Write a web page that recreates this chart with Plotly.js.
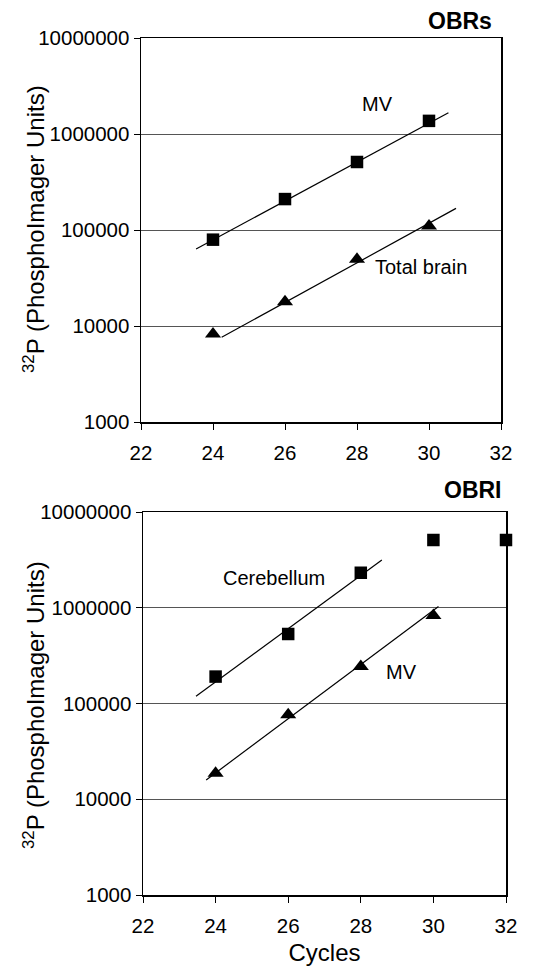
<!DOCTYPE html>
<html>
<head>
<meta charset="utf-8">
<script src="https://cdn.plot.ly/plotly-3.0.1.min.js"></script>
<style>
  html, body { margin: 0; padding: 0; background: #fff; }
  #chart { width: 553px; height: 967px; }
</style>
</head>
<body>
<div id="chart"></div>
<script>
// ---- data ----
const cycles = [24, 26, 28, 30];
const cyclesAll = [24, 26, 28, 30, 32];

// Panel A: OBRs
const obrsMV = [79300, 210000, 511000, 1370000];
const obrsTotalBrain = [8260, 17900, 49500, 110000];
const obrsMVFitX = [23.53, 30.54];
const obrsMVFitY = [63400, 1667000];
const obrsTBFitX = [24.24, 30.75];
const obrsTBFitY = [7620, 168000];

// Panel B: OBRI
const obriCerebellum = [191000, 532000, 2320000, 5100000, 5100000];
const obriMV = [18700, 76200, 244000, 830000];
const obriCbFitX = [23.46, 28.58];
const obriCbFitY = [119000, 3160000];
const obriMVFitX = [23.74, 30.14];
const obriMVFitY = [15900, 1030000];

// ticks
const xTicks = [22, 24, 26, 28, 30, 32];
const yTicks = [1000, 10000, 100000, 1000000, 10000000];
const yTickText = ["1000", "10000", "100000", "1000000", "10000000"];

// texts
const yTitle = '<sup>32</sup>P (PhosphoImager Units)';
const xTitle = 'Cycles';
const panelTitles = ['OBRs', 'OBRI'];

const FONT = "Arial, 'Liberation Sans', sans-serif";

function markerTrace(x, y, sym, xa, ya) {
  return {
    x: x, y: y, xaxis: xa, yaxis: ya, type: 'scatter', mode: 'markers',
    cliponaxis: false, hoverinfo: 'skip',
    marker: { symbol: sym, size: sym === 'square' ? 12.5 : 14, color: '#000' }
  };
}
function lineTrace(x, y, xa, ya) {
  return {
    x: x, y: y, xaxis: xa, yaxis: ya, type: 'scatter', mode: 'lines',
    cliponaxis: false, hoverinfo: 'skip',
    line: { color: '#000', width: 1.2 }
  };
}

const traces = [
  lineTrace(obrsMVFitX, obrsMVFitY, 'x', 'y'),
  lineTrace(obrsTBFitX, obrsTBFitY, 'x', 'y'),
  markerTrace(cycles, obrsMV, 'square', 'x', 'y'),
  markerTrace(cycles, obrsTotalBrain, 'triangle-up', 'x', 'y'),
  lineTrace(obriCbFitX, obriCbFitY, 'x2', 'y2'),
  lineTrace(obriMVFitX, obriMVFitY, 'x2', 'y2'),
  markerTrace(cyclesAll, obriCerebellum, 'square', 'x2', 'y2'),
  markerTrace(cycles, obriMV, 'triangle-up', 'x2', 'y2')
];

const W = 553, H = 967;
function xAxis(domL, domR, anchor, titleText) {
  const ax = {
    domain: [domL / W, domR / W], anchor: anchor,
    type: 'linear', range: [22, 32], tickvals: xTicks,
    ticks: 'outside', ticklen: 6, tickwidth: 1, tickcolor: '#000',
    showgrid: false, zeroline: false,
    showline: true, mirror: true, linecolor: '#000', linewidth: 1.5,
    tickfont: { family: FONT, size: 20.5, color: '#000' },
    ticklabelstandoff: 6
  };
  if (titleText) ax.title = { text: titleText, font: { family: FONT, size: 24, color: '#000' }, standoff: 8 };
  return ax;
}
function yAxis(topPx, botPx, anchor) {
  return {
    domain: [1 - botPx / H, 1 - topPx / H], anchor: anchor,
    type: 'log', range: [3, 7], tickvals: yTicks, ticktext: yTickText,
    ticks: 'outside', ticklen: 6, tickwidth: 1, tickcolor: '#000',
    showgrid: true, gridcolor: '#555', gridwidth: 1, zeroline: false,
    showline: true, mirror: true, linecolor: '#000', linewidth: 1.5,
    tickfont: { family: FONT, size: 20.5, color: '#000' }
  };
}

const annFont = { family: FONT, size: 20, color: '#000' };
const titleFont = { family: FONT, size: 24, color: '#000' };
const layout = {
  width: W, height: H,
  margin: { l: 0, r: 0, t: 0, b: 0 },
  paper_bgcolor: '#fff', plot_bgcolor: '#fff',
  showlegend: false,
  xaxis: xAxis(141, 501, 'y', null),
  yaxis: yAxis(38, 422, 'x'),
  xaxis2: xAxis(143, 506, 'y2', xTitle),
  yaxis2: yAxis(512, 895, 'x2'),
  annotations: [
    { text: yTitle, xref: 'paper', yref: 'paper', x: 34 / W, y: 1 - 229 / H, textangle: -90, xanchor: 'center', yanchor: 'middle', showarrow: false, font: titleFont },
    { text: yTitle, xref: 'paper', yref: 'paper', x: 34 / W, y: 1 - 705 / H, textangle: -90, xanchor: 'center', yanchor: 'middle', showarrow: false, font: titleFont },
    { text: 'MV', xref: 'x', yref: 'y', x: 28.58, y: 6.3125, showarrow: false, font: annFont },
    { text: 'Total brain', xref: 'x', yref: 'y', x: 29.79, y: 4.615, showarrow: false, font: annFont },
    { text: 'Cerebellum', xref: 'x2', yref: 'y2', x: 25.6, y: 6.3125, showarrow: false, font: annFont },
    { text: 'MV', xref: 'x2', yref: 'y2', x: 29.13, y: 5.333, showarrow: false, font: annFont },
    { text: '<b>' + panelTitles[0] + '</b>', xref: 'paper', yref: 'paper', x: 494 / W, y: 1 - 21 / H, xanchor: 'right', yanchor: 'middle', showarrow: false, font: { family: FONT, size: 23, color: '#000' } },
    { text: '<b>' + panelTitles[1] + '</b>', xref: 'paper', yref: 'paper', x: 504 / W, y: 1 - 490 / H, xanchor: 'right', yanchor: 'middle', showarrow: false, font: { family: FONT, size: 23, color: '#000' } }
  ]
};

Plotly.newPlot('chart', traces, layout, { staticPlot: true, displayModeBar: false });
</script>
</body>
</html>
